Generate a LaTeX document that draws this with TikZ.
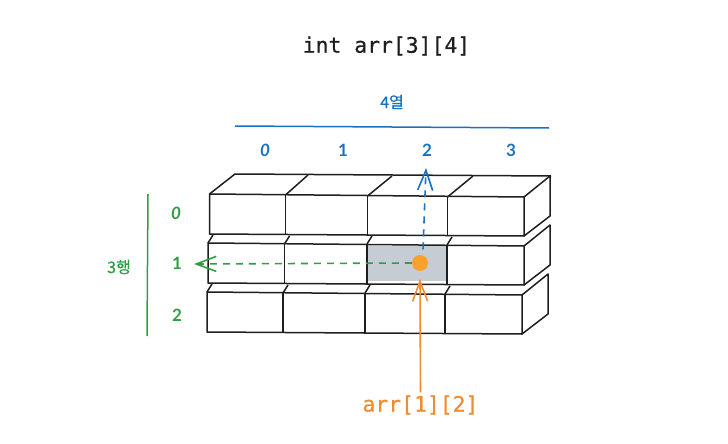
\documentclass[tikz,border=0pt]{standalone}
\usepackage{fontspec}
\setmainfont{Lato}
\newfontfamily\codefont[FakeBold=0.5]{DejaVu Sans Mono}
\newfontfamily\krfont[FakeBold=0.5]{Noto Sans CJK KR}
\usetikzlibrary{arrows.meta, positioning}

\definecolor{inkblack}{HTML}{1E1E1E}
\definecolor{inkblue}{HTML}{1971C2}
\definecolor{inkgreen}{HTML}{2F9E44}
\definecolor{inkorange}{HTML}{F08C2E}
\definecolor{dotorange}{HTML}{F9A12E}
\definecolor{cellgrey}{HTML}{C5CCD3}

\tikzset{
  cellline/.style={draw=inkblack, line width=1.5pt, line join=round},
  codelabel/.style={font=\codefont\fontsize{21.4}{25}\selectfont, inner sep=0pt},
  idxlabel/.style={font=\fontsize{17}{20}\selectfont\bfseries, inner sep=0pt},
  krlabel/.style={font=\krfont\fontsize{16}{19}\selectfont, inner sep=0pt},
  barb/.style={-{Straight Barb[length=20pt, width=15pt, line width=1.6pt]}}
}

\begin{document}
\begin{tikzpicture}[x=1pt, y=-1pt]
\useasboundingbox (0,0) rectangle (728,444);

\fill[cellgrey] (368,246) rectangle (446,281);

% front faces and right sides of the three rows
\foreach \xa/\xb/\xc/\xd/\xe/\yt in {209.5/285.5/367.5/447.5/524/194, 208/284.5/367/447/524/243, 207/283/365/445/522/292} {
  \draw[cellline] (\xa,\yt) -- (\xe,\yt+3) -- (\xe,\yt+42) -- (\xa,\yt+40) -- cycle;
  \draw[cellline] (\xb,\yt+1) -- (\xb,\yt+41);
  \draw[cellline] (\xc,\yt+2) -- (\xc,\yt+41);
  \draw[cellline] (\xd,\yt+2) -- (\xd,\yt+41);
  \draw[cellline] (\xe,\yt+3) -- (\xe+26,\yt-18) -- (\xe+26,\yt+22) -- (\xe,\yt+42);
}

% top face of the first row
\draw[cellline] (209.5,194) -- (235,174) -- (551,176);
\draw[cellline] (285.5,195) -- (308,175);
\draw[cellline] (367.5,196) -- (392,176);
\draw[cellline] (447.5,197) -- (473,176);

% short edges between the rows
\foreach \xs/\ys in {208/243, 284.5/244, 367/244, 447/245, 207/292, 283/293, 365/293, 445/294} {
  \draw[cellline] (\xs,\ys) -- (\xs+5,\ys-8);
}

\node[codelabel, text=inkblack] (title) at (386.5,46) {int arr[3][4]};

% columns
\node[krlabel, text=inkblue] (collabel) at (392,102) {4열};
\coordinate (colstart) at (235,126);
\coordinate (colend) at (549,128);
\draw[inkblue, line width=1.5pt] (colstart) -- (colend);
\node[idxlabel, text=inkblue] (col0) at (265,150) {\itshape 0};
\node[idxlabel, text=inkblue] (col1) at (343,150) {1};
\node[idxlabel, text=inkblue] (col2) at (427,150) {2};
\node[idxlabel, text=inkblue] (col3) at (511,150) {3};

% rows
\node[krlabel, text=inkgreen] (rowlabel) at (119,267) {3행};
\coordinate (rowstart) at (148,194);
\coordinate (rowend) at (147,336);
\draw[inkgreen, line width=1.5pt] (rowstart) -- (rowend);
\node[idxlabel, text=inkgreen] (row0) at (176,213) {\itshape 0};
\node[idxlabel, text=inkgreen] (row1) at (177,263) {1};
\node[idxlabel, text=inkgreen] (row2) at (177,315) {2};

% selected element
\node[circle, fill=dotorange, minimum size=16pt, inner sep=0pt] (elem) at (420,263) {};
\node[codelabel, text=inkorange] (elemlabel) at (420.5,405) {arr[1][2]};

\coordinate (bluetip) at (426,168);
\coordinate (greentip) at (194,264);
\coordinate (orangetip) at (420,279);
\draw[inkblue, line width=1.6pt, dashed, dash pattern=on 7pt off 6pt, barb, shorten <=6pt] (elem.70) -- (bluetip);
\draw[inkgreen, line width=1.6pt, dashed, dash pattern=on 7pt off 6pt, barb] (elem.west) -- (greentip);
\draw[inkorange, line width=1.6pt, barb, shorten <=3pt] (elemlabel.north) -- (orangetip);
\end{tikzpicture}
\end{document}
